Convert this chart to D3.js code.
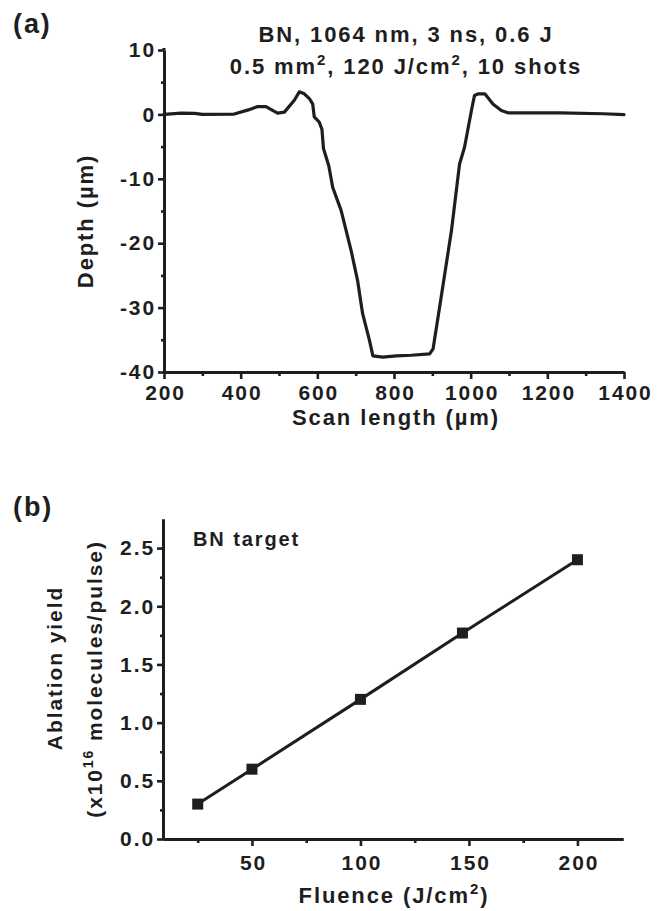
<!DOCTYPE html>
<html>
<head>
<meta charset="utf-8">
<script src="https://cdn.jsdelivr.net/npm/d3@7"></script>
<style>
  html, body { margin: 0; padding: 0; background: #ffffff; }
  svg { display: block; }
  text { font-family: "Liberation Sans", Arial, sans-serif; font-weight: bold; fill: #1e1e1e; letter-spacing: 1.9px; }
</style>
</head>
<body>
<script>
// Panel (a): crater depth profile along the scan line
const scanLength = [200, 245, 280, 300, 383, 420, 443, 466, 496, 514, 540, 553, 566, 580, 588, 592, 605, 612, 616, 630, 640, 662, 688, 705, 718, 736, 745, 771, 806, 845, 893, 902, 923, 950, 971, 984, 1002, 1010, 1020, 1037, 1058, 1080, 1097, 1233, 1346, 1400];
const depth      = [0.0, 0.2, 0.15, 0.0, 0.05, 0.7, 1.2, 1.2, 0.2, 0.35, 2.2, 3.5, 3.2, 2.4, 1.6, -0.4, -1.2, -2.3, -5.3, -8.0, -11.3, -14.9, -21.1, -25.8, -30.9, -35.1, -37.5, -37.7, -37.5, -37.4, -37.2, -36.4, -28.4, -18.0, -7.7, -5.1, 0.6, 2.95, 3.2, 3.2, 1.6, 0.6, 0.25, 0.25, 0.1, -0.05];
const scanDomain = [200, 1400];
const depthDomain = [-40, 10];
const scanTicks = [200, 400, 600, 800, 1000, 1200, 1400];
const scanMinor = [300, 500, 700, 900, 1100, 1300];
const depthTicks = [10, 0, -10, -20, -30, -40];
const depthMinor = [5, -5, -15, -25, -35];

// Panel (b): ablation yield versus fluence
const fluence = [25, 50, 100, 147, 200];
const ablationYield = [0.3, 0.6, 1.2, 1.77, 2.4];
const fluenceDomain = [9, 221];
const yieldDomain = [0, 2.75];
const fluenceTicks = [50, 100, 150, 200];
const fluenceMinor = [25, 75, 125, 175];
const yieldTicks = [0, 0.5, 1.0, 1.5, 2.0, 2.5];
const yieldMinor = [0.25, 0.75, 1.25, 1.75, 2.25];

const W = 668, H = 911;
const ink = "#1e1e1e";
const plain = d => String(d);          // hyphen-minus, as printed on the axes
const oneDec = d => d.toFixed(1);

const svg = d3.select("body").append("svg")
  .attr("width", W).attr("height", H);
svg.append("rect").attr("width", W).attr("height", H).attr("fill", "#ffffff");

function styleAxis(g, fontSize) {
  g.attr("font-family", null).attr("font-size", null);
  g.select(".domain").attr("stroke", ink).attr("stroke-width", 3);
  g.selectAll(".tick line").attr("stroke", ink).attr("stroke-width", 2.6);
  g.selectAll(".tick text").attr("font-size", fontSize).attr("fill", ink);
}

function drawAxes(group, x, y, opt) {
  // minor ticks first, then major ticks with labels
  group.append("g").attr("transform", `translate(0,${y.range()[0]})`)
    .call(d3.axisBottom(x).tickValues(opt.xMinor).tickSize(4).tickSizeOuter(0).tickFormat(""))
    .call(g => styleAxis(g, 0));
  const xa = group.append("g").attr("transform", `translate(0,${y.range()[0]})`)
    .call(d3.axisBottom(x).tickValues(opt.xTicks).tickSize(7).tickSizeOuter(0).tickPadding(opt.xPad).tickFormat(opt.xFmt))
    .call(g => styleAxis(g, opt.tickFont));
  xa.selectAll(".tick text").attr("dx", "1px");

  group.append("g").attr("transform", `translate(${x.range()[0]},0)`)
    .call(d3.axisLeft(y).tickValues(opt.yMinor).tickSize(3).tickSizeOuter(0).tickFormat(""))
    .call(g => styleAxis(g, 0));
  group.append("g").attr("transform", `translate(${x.range()[0]},0)`)
    .call(d3.axisLeft(y).tickValues(opt.yTicks).tickSize(6).tickSizeOuter(0).tickPadding(2).tickFormat(opt.yFmt))
    .call(g => styleAxis(g, opt.tickFont));
}

// ---------- Panel (a) ----------
const xA = d3.scaleLinear().domain(scanDomain).range([164, 624]);
const yA = d3.scaleLinear().domain(depthDomain).range([372, 50]);
const gA = svg.append("g");

gA.append("line").attr("x1", xA.range()[0]).attr("x2", xA.range()[0])
  .attr("y1", yA.range()[1] - 2).attr("y2", yA.range()[1]).attr("stroke", ink).attr("stroke-width", 3);

drawAxes(gA, xA, yA, {
  xTicks: scanTicks, xMinor: scanMinor, yTicks: depthTicks, yMinor: depthMinor,
  xFmt: plain, yFmt: plain, tickFont: 21, xPad: 6
});

const profile = scanLength.map((s, i) => [s, depth[i]]);
gA.append("path").datum(profile)
  .attr("fill", "none").attr("stroke", ink).attr("stroke-width", 3.2)
  .attr("stroke-linejoin", "round").attr("stroke-linecap", "round")
  .attr("d", d3.line().x(d => xA(d[0])).y(d => yA(d[1])));

svg.append("text").attr("x", 13).attr("y", 33).attr("font-size", 27).text("(a)");

svg.append("text").attr("x", 406).attr("y", 42).attr("font-size", 22)
  .attr("text-anchor", "middle").text("BN, 1064 nm, 3 ns, 0.6 J");
const t2 = svg.append("text").attr("x", 406).attr("y", 74).attr("font-size", 22)
  .attr("text-anchor", "middle");
t2.append("tspan").text("0.5 mm");
t2.append("tspan").attr("dy", -9).attr("font-size", 15).text("2");
t2.append("tspan").attr("dy", 9).text(", 120 J/cm");
t2.append("tspan").attr("dy", -9).attr("font-size", 15).text("2");
t2.append("tspan").attr("dy", 9).text(", 10 shots");

svg.append("text").attr("x", 396).attr("y", 425).attr("font-size", 22)
  .attr("text-anchor", "middle").text("Scan length (\u00b5m)");

svg.append("text").attr("transform", "translate(93,221) rotate(-90)")
  .attr("font-size", 22).attr("text-anchor", "middle").text("Depth (\u00b5m)");

// ---------- Panel (b) ----------
const xB = d3.scaleLinear().domain(fluenceDomain).range([163, 623]);
const yB = d3.scaleLinear().domain(yieldDomain).range([839, 519]);
const gB = svg.append("g");

drawAxes(gB, xB, yB, {
  xTicks: fluenceTicks, xMinor: fluenceMinor, yTicks: yieldTicks, yMinor: yieldMinor,
  xFmt: plain, yFmt: oneDec, tickFont: 21, xPad: 9
});

const pts = fluence.map((f, i) => [f, ablationYield[i]]);
gB.append("path").datum(pts)
  .attr("fill", "none").attr("stroke", ink).attr("stroke-width", 3)
  .attr("d", d3.line().x(d => xB(d[0])).y(d => yB(d[1])));
gB.selectAll("rect.pt").data(pts).join("rect").attr("class", "pt")
  .attr("x", d => xB(d[0]) - 5.5).attr("y", d => yB(d[1]) - 5.5)
  .attr("width", 11).attr("height", 11).attr("fill", ink);

svg.append("text").attr("x", 13).attr("y", 516).attr("font-size", 27).text("(b)");
svg.append("text").attr("x", 193).attr("y", 546).attr("font-size", 20).text("BN target");

const xl = svg.append("text").attr("x", 394).attr("y", 903).attr("font-size", 22)
  .attr("text-anchor", "middle");
xl.append("tspan").text("Fluence (J/cm");
xl.append("tspan").attr("dy", -9).attr("font-size", 15).text("2");
xl.append("tspan").attr("dy", 9).text(")");

svg.append("text").attr("transform", "translate(62,668) rotate(-90)")
  .attr("font-size", 21).attr("text-anchor", "middle").text("Ablation yield");
const yl2 = svg.append("text").attr("transform", "translate(102,679) rotate(-90)")
  .attr("font-size", 21).attr("text-anchor", "middle");
yl2.append("tspan").text("(x10");
yl2.append("tspan").attr("dy", -9).attr("font-size", 14).text("16");
yl2.append("tspan").attr("dy", 9).text(" molecules/pulse)");
</script>
</body>
</html>
